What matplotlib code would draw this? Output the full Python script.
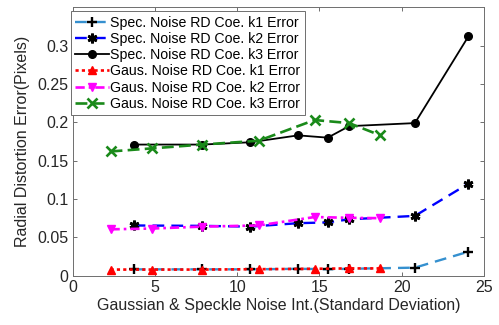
import numpy as np
import matplotlib as mpl
import matplotlib.pyplot as plt

mpl.rcParams.update({
    "font.family": ["Liberation Sans", "DejaVu Sans"],
    "xtick.direction": "in",
    "ytick.direction": "in",
    "xtick.top": True,
    "ytick.right": True,
    "axes.linewidth": 0.7,
    "axes.edgecolor": "#6e6e6e",
    "xtick.color": "#6e6e6e",
    "ytick.color": "#6e6e6e",
    "xtick.labelcolor": "#262626",
    "ytick.labelcolor": "#262626",
})

# ---------------------------------------------------------------- data
x_spec = [3.7, 7.86, 10.8, 13.7, 15.5, 16.8, 20.8, 24.05]
spec_k1 = [0.0083, 0.0083, 0.0083, 0.009, 0.0085, 0.009, 0.0105, 0.0313]
spec_k2 = [0.0655, 0.065, 0.064, 0.0685, 0.0695, 0.0735, 0.078, 0.120]
spec_k3 = [0.171, 0.171, 0.174, 0.183, 0.180, 0.195, 0.199, 0.312]

x_gaus = [2.3, 4.8, 7.86, 11.3, 14.7, 16.8, 18.7]
gaus_k1 = [0.008, 0.008, 0.008, 0.0085, 0.009, 0.0095, 0.0095]
gaus_k2 = [0.0605, 0.0615, 0.064, 0.0655, 0.0765, 0.0755, 0.075]
gaus_k3 = [0.162, 0.166, 0.171, 0.176, 0.203, 0.199, 0.183]

labels = ["Spec. Noise RD Coe. k1 Error",
          "Spec. Noise RD Coe. k2 Error",
          "Spec. Noise RD Coe. k3 Error",
          "Gaus. Noise RD Coe. k1 Error",
          "Gaus. Noise RD Coe. k2 Error",
          "Gaus. Noise RD Coe. k3 Error"]

# ---------------------------------------------------------------- figure
fig = plt.figure(figsize=(4.99, 3.25), dpi=100)
ax = fig.add_axes([72.7 / 499, 1 - 275.7 / 325, (484 - 72.7) / 499, (275.7 - 7.3) / 325])

asterisk = (6, 2, 0)
ax.plot(x_spec, spec_k1, ls=(0, (5, 3)), color="#3590cf", lw=1.7,
        marker="+", ms=7.5, mec="black", mew=1.7, label=labels[0])
ax.plot(x_spec, spec_k2, ls=(0, (5, 3)), color="#0000ff", lw=1.7,
        marker=asterisk, ms=7, mec="black", mfc="black", mew=2.0, label=labels[1])
ax.plot(x_spec, spec_k3, ls="-", color="black", lw=1.3,
        marker="o", ms=5.5, mec="black", mfc="black", label=labels[2])
ax.plot(x_gaus, gaus_k1, ls=(0, (1.2, 1.2)), color="#ff0000", lw=1.9,
        marker="^", ms=6, mec="#ff0000", mfc="#ff0000", label=labels[3])
ax.plot(x_gaus, gaus_k2, ls=(0, (3.5, 1.5, 1, 1.5)), color="#ff00ff", lw=1.9,
        marker="v", ms=6, mec="#ff00ff", mfc="#ff00ff", label=labels[4])
ax.plot(x_gaus, gaus_k3, ls=(0, (4.5, 2)), color="#1a8a1a", lw=1.9,
        marker="x", ms=6.5, mew=1.9, mec="#1a8a1a", label=labels[5])

ax.set_xlim(0, 25)
ax.set_ylim(0, 0.35)
ax.set_xticks([0, 5, 10, 15, 20, 25])
ax.set_yticks([0, 0.05, 0.1, 0.15, 0.2, 0.25, 0.3])
ax.set_yticklabels(["0", "0.05", "0.1", "0.15", "0.2", "0.25", "0.3"])
ax.tick_params(labelsize=11.5, length=3, width=0.7, pad=3)

ax.set_xlabel("Gaussian & Speckle Noise Int.(Standard Deviation)",
              fontsize=11.5, color="#262626", labelpad=2)
ax.set_ylabel("Radial Distortion Error(Pixels)", fontsize=11.5,
              color="#262626", labelpad=5)

leg = ax.legend(loc="upper left", bbox_to_anchor=(-0.005, 0.985), fontsize=10.2,
                frameon=True, fancybox=False, edgecolor="#6e6e6e",
                framealpha=1, borderpad=0.3, labelspacing=0.16,
                handlelength=2.4, handletextpad=0.1, borderaxespad=0)
leg.get_frame().set_linewidth(0.7)

fig.savefig("out.png", dpi=100)
